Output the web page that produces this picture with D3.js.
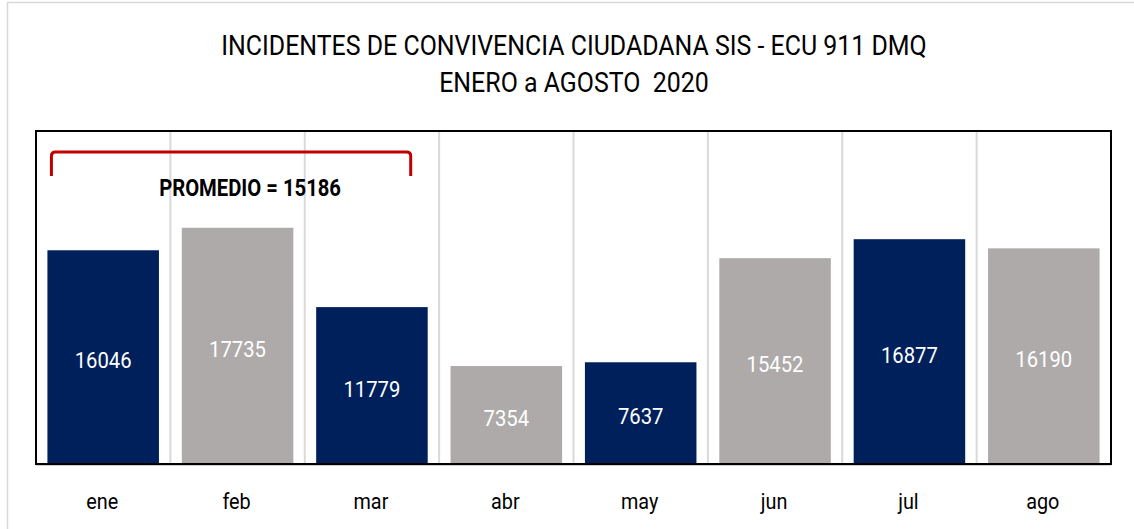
<!DOCTYPE html>
<html>
<head>
<meta charset="utf-8">
<script src="https://cdn.jsdelivr.net/npm/d3@7"></script>
<style>
  html, body { margin: 0; padding: 0; background: #fff; overflow: hidden; }
  svg { display: block; }
  text { font-family: Roboto, "Liberation Sans", sans-serif; }
</style>
</head>
<body>
<svg id="chart"></svg>
<script>
const months = ["ene", "feb", "mar", "abr", "may", "jun", "jul", "ago"];
const incidents = [16046, 17735, 11779, 7354, 7637, 15452, 16877, 16190];
const barColors = ["#00205b", "#aeaaaa"];
const titleLines = ["INCIDENTES DE CONVIVENCIA CIUDADANA SIS - ECU 911 DMQ", "ENERO a AGOSTO  2020"];
const averageLabel = "PROMEDIO = 15186";
const averageMonths = ["ene", "mar"];

const width = 1134;
const height = 529;
const margin = { top: 131, right: 23, bottom: 65, left: 36 };
const innerWidth = width - margin.left - margin.right;
const innerHeight = height - margin.top - margin.bottom;

const svg = d3.select("#chart").attr("width", width).attr("height", height);

// outer chart frame (only top and left visible)
svg.append("path")
  .attr("d", `M7.5,${height} L7.5,2.5 L${width},2.5`)
  .attr("fill", "none").attr("stroke", "#d9d9d9").attr("stroke-width", 1.5);

// squeeze glyphs horizontally to fake a condensed face
const condense = (sel, squeeze) =>
  sel.each(function () {
    const w = this.getComputedTextLength();
    d3.select(this)
      .attr("textLength", w * squeeze)
      .attr("lengthAdjust", "spacingAndGlyphs");
  });

// title
svg.selectAll(".title")
  .data(titleLines)
  .enter()
  .append("text")
  .attr("class", "title")
  .attr("x", width / 2 + 7)
  .attr("y", (d, i) => 55 + i * 37)
  .attr("text-anchor", "middle")
  .style("font-size", "28px")
  .style("white-space", "pre")
  .attr("fill", "#000")
  .text((d) => d)
  .call(condense, 0.89);

const x = d3.scaleBand().domain(months).range([0, innerWidth]).paddingInner(0.17).paddingOuter(0.085);
const band = d3.scaleBand().domain(months).range([0, innerWidth]);
const y = d3.scaleLinear().domain([0, 25000]).range([innerHeight, 0]);

const g = svg.append("g").attr("transform", `translate(${margin.left},${margin.top})`);

// vertical gridlines between categories
g.selectAll(".grid")
  .data(months.slice(1))
  .enter()
  .append("line")
  .attr("x1", (d) => band(d)).attr("x2", (d) => band(d))
  .attr("y1", 0).attr("y2", innerHeight)
  .attr("stroke", "#d9d9d9").attr("stroke-width", 2);

// bars
g.selectAll(".bar")
  .data(incidents)
  .enter()
  .append("rect")
  .attr("class", "bar")
  .attr("x", (d, i) => x(months[i]))
  .attr("y", (d) => y(d))
  .attr("width", x.bandwidth())
  .attr("height", (d) => innerHeight - y(d))
  .attr("fill", (d, i) => barColors[i % 2]);

// value labels
g.selectAll(".value")
  .data(incidents)
  .enter()
  .append("text")
  .attr("class", "value")
  .attr("x", (d, i) => x(months[i]) + x.bandwidth() / 2)
  .attr("y", (d) => (y(d) + innerHeight) / 2 + 11)
  .attr("text-anchor", "middle")
  .style("font-size", "22px")
  .attr("fill", "#fff")
  .text((d) => d)
  .call(condense, 0.92);

// baseline: light line with dotted overlay
g.append("line")
  .attr("x1", 0).attr("x2", innerWidth)
  .attr("y1", innerHeight + 1).attr("y2", innerHeight + 1)
  .attr("stroke", "#d0d0d0").attr("stroke-width", 2);
g.append("line")
  .attr("x1", 0).attr("x2", innerWidth)
  .attr("y1", innerHeight).attr("y2", innerHeight)
  .attr("stroke", "#000").attr("stroke-width", 1)
  .attr("stroke-dasharray", "1.5,3");

// plot border
g.append("rect")
  .attr("x", 0).attr("y", 0)
  .attr("width", innerWidth).attr("height", innerHeight)
  .attr("fill", "none").attr("stroke", "#000").attr("stroke-width", 2);

// month labels
g.selectAll(".month")
  .data(months)
  .enter()
  .append("text")
  .attr("class", "month")
  .attr("x", (d) => band(d) + band.bandwidth() / 2 - 1)
  .attr("y", innerHeight + 45)
  .attr("text-anchor", "middle")
  .style("font-size", "22px")
  .attr("fill", "#000")
  .text((d) => d)
  .call(condense, 0.9);

// average bracket over ene-mar
const bx0 = x(averageMonths[0]) + 4;
const bx1 = x(averageMonths[1]) + x.bandwidth() - 17;
const by0 = 21;
const by1 = 45;
g.append("path")
  .attr("d", `M${bx0},${by1} L${bx0},${by0 + 4} Q${bx0},${by0} ${bx0 + 4},${by0} L${bx1 - 4},${by0} Q${bx1},${by0} ${bx1},${by0 + 4} L${bx1},${by1}`)
  .attr("fill", "none").attr("stroke", "#c00000").attr("stroke-width", 3);

g.append("text")
  .attr("x", (bx0 + bx1) / 2 + 19)
  .attr("y", 65)
  .attr("text-anchor", "middle")
  .style("font-size", "23px")
  .style("font-weight", "bold")
  .attr("fill", "#000")
  .text(averageLabel)
  .call(condense, 0.88);
</script>
</body>
</html>
